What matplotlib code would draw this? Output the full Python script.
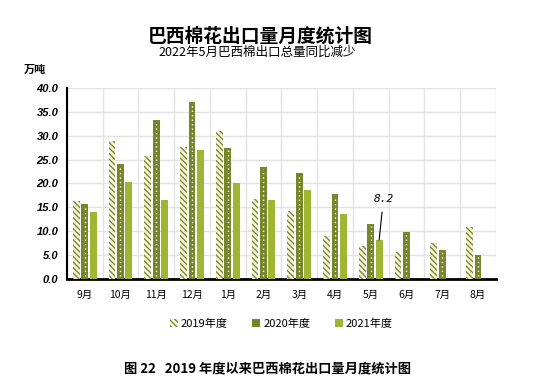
import numpy as np
from matplotlib import pyplot as plt

months = ['9月', '10月', '11月', '12月', '1月', '2月', '3月', '4月', '5月', '6月', '7月', '8月']
y2019 = [16.4, 28.9, 25.7, 27.7, 31.0, 16.8, 14.2, 9.1, 6.9, 5.7, 7.6, 10.9]
y2020 = [15.8, 24.1, 33.3, 37.1, 27.5, 23.5, 22.1, 17.7, 11.6, 9.9, 6.1, 5.0]
y2021 = [14.1, 20.4, 16.6, 27.0, 20.0, 16.6, 18.6, 13.7, 8.2]
series_names = ['2019年度', '2020年度', '2021年度']
yticks = np.arange(0, 40.1, 5)

c2019 = '#7f8a2c'
c2020 = '#77862a'
c2021 = '#a0b534'

plt.rcParams['font.family'] = ['Noto Sans CJK SC', 'DejaVu Sans']
plt.rcParams['hatch.linewidth'] = 1.0

fig = plt.figure(figsize=(5.39, 3.92), dpi=100)
ax = fig.add_axes([0.124, 0.288, 0.796, 0.488])

x = np.arange(len(months))
w = 0.19
off = 0.235

ax.bar(x - off, y2019, w, color='#f5f5e0', edgecolor=c2019, linewidth=0,
       hatch='\\\\\\\\\\\\', label=series_names[0], zorder=3)
ax.bar(x, y2020, w, color=c2020, linewidth=0, label=series_names[1], zorder=3)
ax.vlines(x, 0.6, np.array(y2020) - 0.4, colors='white', linewidth=1.0,
          linestyles=(0, (1, 2.2)), zorder=4)
x21 = np.arange(len(y2021))
ax.bar(x21 + off, y2021, w, color=c2021, linewidth=0, label=series_names[2], zorder=3)

ax.annotate('8.2', xy=(x21[-1] + off, y2021[-1]), xytext=(x21[-1] + off + 0.12, 16.8),
            ha='center', va='center', fontsize=8, style='italic',
            family=['DejaVu Sans Mono'],
            arrowprops=dict(arrowstyle='-', color='black', lw=0.8, shrinkA=4, shrinkB=0))

ax.set_xlim(-0.5, len(months) - 0.5)
ax.set_ylim(0, 40)
ax.set_yticks(yticks)
ax.set_yticklabels([f'{v:.1f}' for v in yticks], fontsize=8, fontweight='bold',
                   style='italic', family=['Liberation Sans'])
ax.set_xticks(x)
ax.set_xticklabels(months, fontsize=7.5)
ax.set_xticks(np.arange(-0.5, len(months)), minor=True)
ax.tick_params(axis='both', which='both', length=0)
ax.tick_params(axis='x', pad=8)
ax.tick_params(axis='y', pad=6)

ax.grid(axis='y', color='#e3e3e3', linewidth=1, zorder=0)
ax.grid(axis='x', which='minor', color='#e3e3e3', linewidth=1, zorder=0)
ax.grid(axis='x', which='major', visible=False)
for s in ['top', 'right']:
    ax.spines[s].set_visible(False)
ax.spines['left'].set_linewidth(1.5)
ax.spines['bottom'].set_linewidth(2)

ax.text(-0.075, 1.095, '万吨', transform=ax.transAxes, fontsize=8, fontweight='bold',
        style='italic', ha='center', va='center')

fig.text(0.483, 0.908, '巴西棉花出口量月度统计图', ha='center', va='center',
         fontsize=13.5, fontweight='bold')
fig.text(0.478, 0.866, '2022年5月巴西棉出口总量同比减少', ha='center', va='center',
         fontsize=9)

ax.legend(loc='upper center', bbox_to_anchor=(0.5, -0.155), ncol=3, frameon=False,
          fontsize=8, handlelength=0.7, handleheight=0.7, handletextpad=0.3,
          columnspacing=2.2)

fig.text(0.497, 0.061, '图 22   2019 年度以来巴西棉花出口量月度统计图', ha='center',
         va='center', fontsize=9.5, fontweight='bold')

fig.savefig('out.png', dpi=100)
